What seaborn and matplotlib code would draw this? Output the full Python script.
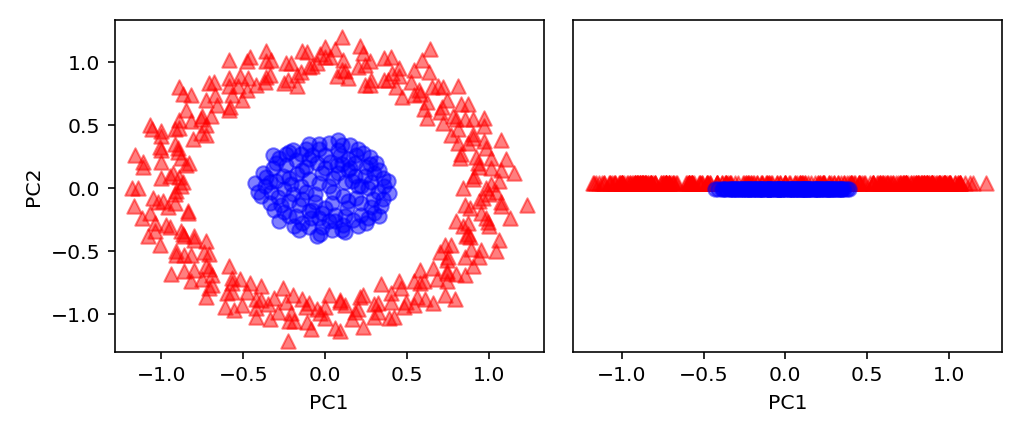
import seaborn as sns
import matplotlib.pyplot as plt
import numpy as np

# outer ring (class 1, red triangles) - PC1 / PC2
red_pc1 = [
    0.98, 1.06, 0.91, 1.01, 1.10, 0.92, 0.83, 0.97, 0.90, 0.97, 0.81, 0.85, 0.72, 0.83, 0.71,
    0.81, 0.62, 0.65, 0.57, 0.47, 0.54, 0.45, 0.38, 0.40, 0.28, 0.27, 0.20, 0.14, 0.11, 0.06,
    -0.00, -0.05, -0.11, -0.15, -0.21, -0.23, -0.33, -0.34, -0.46, -0.42, -0.52, -0.53, -0.51, -0.68, -0.67,
    -0.66, -0.82, -0.70, -0.85, -0.82, -0.76, -0.92, -1.00, -0.92, -1.01, -0.88, -1.00, -1.11, -0.95, -0.87,
    -1.14, -0.92, -1.02, -0.96, -0.84, -1.04, -0.95, -0.88, -1.01, -0.80, -0.91, -0.82, -0.71, -0.80, -0.82,
    -0.69, -0.71, -0.57, -0.60, -0.61, -0.48, -0.39, -0.42, -0.35, -0.34, -0.24, -0.21, -0.14, -0.11, -0.05,
    0.00, 0.06, 0.09, 0.16, 0.20, 0.23, 0.32, 0.39, 0.40, 0.48, 0.46, 0.56, 0.66, 0.60, 0.58,
    0.74, 0.74, 0.85, 0.75, 0.85, 0.77, 0.95, 0.88, 1.06, 0.87, 0.99, 0.95, 0.85, 1.07, 1.00,
    1.01, 0.90, 1.07, 0.94, 1.01, 0.82, 1.07, 0.87, 0.90, 0.77, 0.90, 0.80, 0.87, 0.70, 0.74,
    0.60, 0.69, 0.58, 0.63, 0.52, 0.43, 0.45, 0.36, 0.36, 0.24, 0.24, 0.21, 0.12, 0.07, 0.03,
    -0.03, -0.08, -0.14, -0.17, -0.24, -0.25, -0.36, -0.36, -0.48, -0.47, -0.48, -0.59, -0.57, -0.71, -0.59,
    -0.73, -0.87, -0.75, -0.73, -0.89, -0.89, -0.81, -1.00, -0.90, -1.00, -0.83, -1.11, -0.93, -1.00, -0.88,
    -0.91, -1.05, -0.92, -1.07, -0.84, -0.97, -1.08, -0.87, -0.80, -0.91, -0.86, -0.74, -0.86, -0.73, -0.75,
    -0.59, -0.73, -0.57, -0.57, -0.46, -0.51, -0.42, -0.42, -0.31, -0.29, -0.20, -0.19, -0.12, -0.09, -0.03,
    0.02, 0.09, 0.12, 0.18, 0.21, 0.30, 0.32, 0.42, 0.40, 0.49, 0.45, 0.61, 0.58, 0.73, 0.68,
    0.66, 0.80, 0.74, 0.90, 0.73, 0.89, 1.04, 0.87, 0.84, 1.00, 0.98, 0.88, 1.07, 0.96, 1.04,
    0.84, 1.15, 0.93, 0.98, 0.81, 0.97, 0.78, 0.62, 0.72, 0.54, 0.59, 0.41, 0.27, 0.23, 0.10,
    -0.00, -0.10, -0.17, -0.36, -0.37, -0.59, -0.59, -0.58, -0.89, -0.76, -0.73, -1.06, -0.90, -0.85, -0.89,
    -1.18, -0.99, -1.12, -1.04, -0.86, -0.73, -0.94, -0.71, -0.69, -0.52, -0.56, -0.39, -0.26, -0.22, -0.10,
    0.00, 0.09, 0.23, 0.30, 0.34, 0.54, 0.54, 0.79, 0.74, 0.70, 0.94, 0.86, 0.80, 1.13, 0.94,
    0.10, 0.64, -1.17, 1.23, -0.23, -1.07, -1.16,
]
red_pc2 = [
    0.00, 0.06, 0.10, 0.16, 0.23, 0.25, 0.27, 0.37, 0.40, 0.49, 0.47, 0.55, 0.52, 0.67, 0.64,
    0.81, 0.68, 0.80, 0.78, 0.72, 0.94, 0.89, 0.86, 1.04, 0.86, 1.01, 0.96, 0.87, 1.02, 1.10,
    1.04, 0.99, 1.08, 0.92, 0.99, 0.86, 1.02, 0.90, 1.04, 0.82, 0.89, 0.81, 0.70, 0.84, 0.74,
    0.66, 0.74, 0.57, 0.62, 0.53, 0.44, 0.47, 0.45, 0.35, 0.33, 0.24, 0.21, 0.17, 0.10, 0.05,
    -0.00, -0.05, -0.11, -0.15, -0.18, -0.28, -0.31, -0.34, -0.45, -0.41, -0.53, -0.53, -0.52, -0.65, -0.74,
    -0.69, -0.79, -0.71, -0.83, -0.94, -0.82, -0.78, -0.95, -0.92, -1.04, -0.90, -0.99, -0.88, -1.06, -0.96,
    -0.94, -1.11, -0.90, -1.04, -0.96, -0.85, -0.98, -1.03, -0.90, -0.94, -0.79, -0.86, -0.91, -0.74, -0.65,
    -0.74, -0.66, -0.69, -0.55, -0.55, -0.45, -0.49, -0.39, -0.41, -0.28, -0.27, -0.20, -0.13, -0.11, -0.05,
    0.03, 0.07, 0.14, 0.17, 0.24, 0.24, 0.38, 0.36, 0.43, 0.42, 0.55, 0.55, 0.67, 0.60, 0.70,
    0.63, 0.81, 0.75, 0.92, 0.84, 0.80, 0.95, 0.86, 1.03, 0.82, 0.98, 1.13, 0.93, 0.89, 1.04,
    1.06, 0.97, 1.09, 0.90, 0.99, 0.83, 1.01, 0.88, 1.01, 0.87, 0.78, 0.87, 0.74, 0.83, 0.62,
    0.70, 0.75, 0.57, 0.50, 0.54, 0.48, 0.39, 0.41, 0.32, 0.30, 0.20, 0.21, 0.12, 0.08, 0.02,
    -0.02, -0.08, -0.12, -0.20, -0.20, -0.29, -0.38, -0.36, -0.38, -0.50, -0.53, -0.51, -0.66, -0.62, -0.72,
    -0.62, -0.86, -0.75, -0.82, -0.75, -0.93, -0.88, -1.02, -0.87, -0.98, -0.85, -1.05, -0.94, -1.12, -0.99,
    -0.85, -1.13, -0.93, -0.98, -0.86, -1.02, -0.91, -1.02, -0.83, -0.90, -0.74, -0.88, -0.75, -0.85, -0.72,
    -0.63, -0.68, -0.57, -0.62, -0.45, -0.48, -0.50, -0.36, -0.30, -0.30, -0.24, -0.16, -0.14, -0.08, -0.03,
    0.00, 0.12, 0.20, 0.32, 0.36, 0.56, 0.57, 0.56, 0.80, 0.74, 1.02, 0.91, 0.82, 1.07, 0.94,
    1.12, 0.96, 0.81, 1.09, 0.84, 1.02, 0.81, 0.64, 0.80, 0.55, 0.42, 0.47, 0.29, 0.18, 0.09,
    -0.00, -0.10, -0.24, -0.34, -0.38, -0.42, -0.68, -0.64, -0.77, -0.72, -0.97, -0.89, -0.79, -1.05, -0.91,
    -1.03, -0.89, -1.10, -0.92, -0.76, -0.93, -0.74, -0.88, -0.67, -0.51, -0.55, -0.38, -0.26, -0.24, -0.10,
    1.20, 1.10, -0.14, -0.13, -1.21, 0.50, 0.26,
]

# inner blob (class 0, blue circles)
blue_pc1 = [
    0.20, 0.18, 0.15, 0.10, 0.03, -0.05, -0.12, -0.17, -0.21, -0.20, -0.16, -0.10, -0.02, 0.06, 0.13, 0.19,
    0.28, 0.25, 0.19, 0.08, -0.04, -0.15, -0.24, -0.30, -0.29, -0.25, -0.14, -0.02, 0.11, 0.22, 0.29,
    0.36, 0.33, 0.27, 0.15, 0.02, -0.10, -0.22, -0.32, -0.37, -0.34, -0.28, -0.16, -0.03, 0.12, 0.25, 0.34,
    0.12, 0.08, -0.02, -0.10, -0.12, -0.06, 0.04, 0.11, 0.02, -0.04, 0.05,
    0.24, 0.22, -0.08, 0.14, -0.22, -0.18, 0.06, -0.09, 0.31, -0.26, 0.17, -0.33, 0.39, -0.43, -0.41,
    0.08, -0.05, 0.20, -0.19, 0.30, -0.28, 0.26, -0.25, 0.00, 0.02, 0.16, -0.15, 0.07, -0.08, 0.35,
    -0.36, 0.10, -0.12,
    0.30, 0.32, 0.28, 0.20, 0.04, -0.10, -0.22, -0.31, -0.34, -0.30, -0.20, -0.04, 0.10, 0.23, 0.35,
    0.38, -0.39, -0.38, 0.14, -0.14, 0.14, -0.14, 0.00, 0.00, 0.22, -0.22, 0.09, -0.10, 0.12, -0.04,
    0.27, -0.27, 0.18, -0.18, 0.33, -0.32, 0.05, -0.06, 0.26, -0.24,
]
blue_pc2 = [
    0.02, 0.10, 0.16, 0.19, 0.21, 0.20, 0.17, 0.11, 0.03, -0.05, -0.13, -0.18, -0.20, -0.21, -0.16, -0.08,
    0.05, 0.17, 0.26, 0.30, 0.31, 0.27, 0.18, 0.06, -0.07, -0.19, -0.28, -0.31, -0.29, -0.21, -0.09,
    0.02, 0.14, 0.25, 0.34, 0.36, 0.35, 0.29, 0.16, 0.02, -0.12, -0.26, -0.33, -0.36, -0.35, -0.28, -0.14,
    0.05, 0.12, 0.12, 0.07, -0.03, -0.11, -0.12, -0.06, 0.02, 0.04, -0.03,
    0.10, -0.12, 0.26, 0.23, -0.10, 0.22, -0.26, -0.24, 0.20, 0.10, -0.25, -0.03, -0.04, 0.04, -0.03,
    0.38, -0.38, 0.31, -0.30, -0.20, 0.24, 0.00, -0.01, 0.26, -0.26, 0.06, 0.02, 0.18, -0.17, 0.08,
    0.09, -0.33, 0.31,
    0.12, -0.03, -0.15, -0.30, -0.33, -0.31, -0.22, -0.17, 0.05, 0.20, 0.30, 0.35, 0.34, 0.28, -0.09,
    0.06, -0.06, 0.12, 0.14, 0.14, -0.10, -0.09, 0.16, -0.16, 0.02, 0.08, 0.26, 0.23, -0.22, -0.24,
    0.19, -0.13, 0.20, -0.22, -0.22, 0.26, 0.08, -0.05, -0.24, 0.27,
]

fig, ax = plt.subplots(nrows=1, ncols=2, figsize=(7, 3.002))

sns.scatterplot(x=red_pc1, y=red_pc2, color="red", marker="^", alpha=0.5,
                s=50, edgecolor="red", linewidth=1, ax=ax[0])
sns.scatterplot(x=blue_pc1, y=blue_pc2, color="blue", marker="o", alpha=0.5,
                s=50, edgecolor="blue", linewidth=1, ax=ax[0])

# projection onto the first component only
sns.scatterplot(x=red_pc1, y=np.zeros(len(red_pc1)) + 0.02, color="red", marker="^",
                alpha=0.5, s=50, edgecolor="red", linewidth=1, ax=ax[1])
sns.scatterplot(x=blue_pc1, y=np.zeros(len(blue_pc1)) - 0.02, color="blue", marker="o",
                alpha=0.5, s=50, edgecolor="blue", linewidth=1, ax=ax[1])

ax[0].set_xlim(-1.285, 1.333)
ax[0].set_ylim(-1.30, 1.333)
ax[0].set_xlabel("PC1")
ax[0].set_ylabel("PC2")

ax[1].set_xlim(-1.30, 1.327)
ax[1].set_ylim([-1, 1])
ax[1].set_yticks([])
ax[1].set_xlabel("PC1")

plt.subplots_adjust(left=0.112, right=0.9785, top=0.954, bottom=0.198, wspace=0.068)
plt.savefig("out.png", dpi=1024 / 7)
